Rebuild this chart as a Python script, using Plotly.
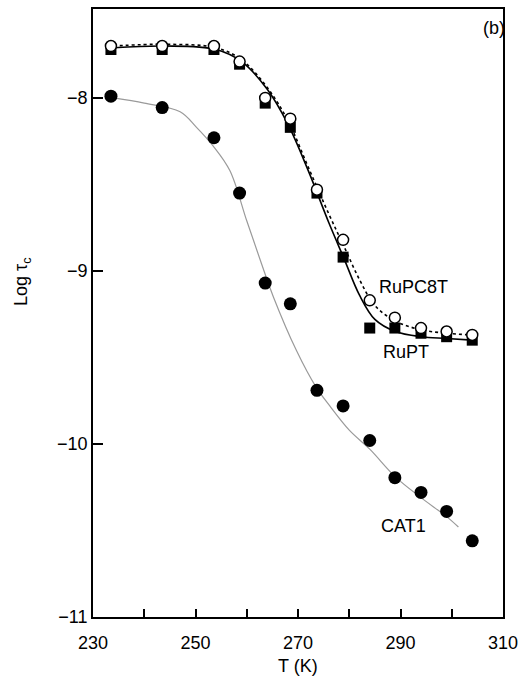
import plotly.graph_objects as go

# Measured data
T = [233.5, 243.5, 253.6, 258.6, 263.6, 268.5, 273.7, 278.8, 284.0, 288.9, 294.0, 299.0, 304.0]
ruPT = [-7.72, -7.72, -7.72, -7.805, -8.03, -8.17, -8.55, -8.92, -9.33, -9.33, -9.36, -9.38, -9.40]
ruPC8T = [-7.70, -7.70, -7.70, -7.79, -8.00, -8.12, -8.53, -8.82, -9.17, -9.27, -9.33, -9.35, -9.37]
cat1 = [-7.99, -8.056, -8.23, -8.55, -9.07, -9.19, -9.69, -9.78, -9.98, -10.195, -10.28, -10.39, -10.56]

# Fitted curves
fitT_ru = [234, 244, 254, 259, 264, 268, 272, 276, 279, 282, 285, 289, 294, 299, 304]
fit_ruPT = [-7.71, -7.70, -7.72, -7.79, -7.95, -8.15, -8.42, -8.72, -8.93, -9.14, -9.28, -9.35, -9.38, -9.39, -9.40]
fit_ruPC8T = [-7.70, -7.69, -7.71, -7.78, -7.94, -8.13, -8.40, -8.67, -8.86, -9.05, -9.20, -9.29, -9.34, -9.36, -9.37]
fitT_cat = [234, 240, 247, 250.2, 253.5, 256.7, 260, 262.9, 265.2, 269.7, 273.5, 276.2, 280, 284, 289, 294, 299, 301.3]
fit_cat1 = [-8.0, -8.03, -8.08, -8.17, -8.28, -8.42, -8.71, -8.96, -9.15, -9.46, -9.67, -9.78, -9.92, -10.03, -10.19, -10.31, -10.42, -10.48]

FONT = "Liberation Sans, Arial, Helvetica, sans-serif"

fig = go.Figure()
fig.add_trace(go.Scatter(x=fitT_cat, y=fit_cat1, mode="lines", line=dict(color="#9a9a9a", width=1.2, shape="spline"), hoverinfo="skip"))
fig.add_trace(go.Scatter(x=fitT_ru, y=fit_ruPT, mode="lines", line=dict(color="black", width=1.6, shape="spline"), hoverinfo="skip"))
fig.add_trace(go.Scatter(x=fitT_ru, y=fit_ruPC8T, mode="lines", line=dict(color="black", width=1.6, dash="dot", shape="spline"), hoverinfo="skip"))
fig.add_trace(go.Scatter(x=T, y=cat1, mode="markers", name="CAT1", marker=dict(symbol="circle", size=13, color="black")))
fig.add_trace(go.Scatter(x=T, y=ruPT, mode="markers", name="RuPT", marker=dict(symbol="square", size=11, color="black")))
fig.add_trace(go.Scatter(x=T, y=ruPC8T, mode="markers", name="RuPC8T", marker=dict(symbol="circle", size=11, color="white", line=dict(color="black", width=1.5))))

fig.update_layout(
    width=521, height=677,
    margin=dict(l=93, r=18, t=9, b=60, autoexpand=False),
    paper_bgcolor="white", plot_bgcolor="white",
    showlegend=False,
    font=dict(family=FONT, size=18, color="black"),
    xaxis=dict(range=[230, 310], dtick=20, tick0=230, ticks="inside", ticklen=8, tickwidth=1.5, tickcolor="black",
               minor=dict(dtick=10, ticks="inside", ticklen=8, tickwidth=1.5, tickcolor="black"),
               ticklabelstandoff=8, automargin=False,
               showline=True, linecolor="black", linewidth=1.8, mirror=True, showgrid=False, zeroline=False),
    yaxis=dict(range=[-11, -7.486], dtick=1, tick0=-11, ticks="inside", ticklen=10, tickwidth=1.5, tickcolor="black",
               automargin=False,
               showline=True, linecolor="black", linewidth=1.8, mirror=True, showgrid=False, zeroline=False),
    annotations=[
        dict(text="T (K)", xref="paper", yref="paper", x=0.5, y=(617 - 666) / 608,
             xanchor="center", yanchor="middle", showarrow=False, font=dict(size=18)),
        dict(text="Log τ<sub>c</sub>", textangle=-90, xref="paper", yref="paper", x=(22 - 93) / 410, y=(617 - 282) / 608,
             xanchor="center", yanchor="middle", showarrow=False, font=dict(size=18)),
        dict(text="(b)", xref="paper", yref="paper", x=(494 - 93) / 410, y=(617 - 28) / 608,
             xanchor="center", yanchor="middle", showarrow=False, font=dict(size=18)),
        dict(text="RuPC8T", xref="x", yref="y", x=230 + (377 - 93) / 5.125, y=-8 - (287 - 98) / 173,
             xanchor="left", yanchor="middle", showarrow=False, font=dict(size=18)),
        dict(text="RuPT", xref="x", yref="y", x=230 + (381 - 93) / 5.125, y=-8 - (352 - 98) / 173,
             xanchor="left", yanchor="middle", showarrow=False, font=dict(size=18)),
        dict(text="CAT1", xref="x", yref="y", x=230 + (403 - 93) / 5.125, y=-8 - (526 - 98) / 173,
             xanchor="center", yanchor="middle", showarrow=False, font=dict(size=18)),
    ],
)

fig.write_html("out.html", config={"displayModeBar": False},
               post_script="document.body.style.margin='0';document.body.style.padding='0';")
